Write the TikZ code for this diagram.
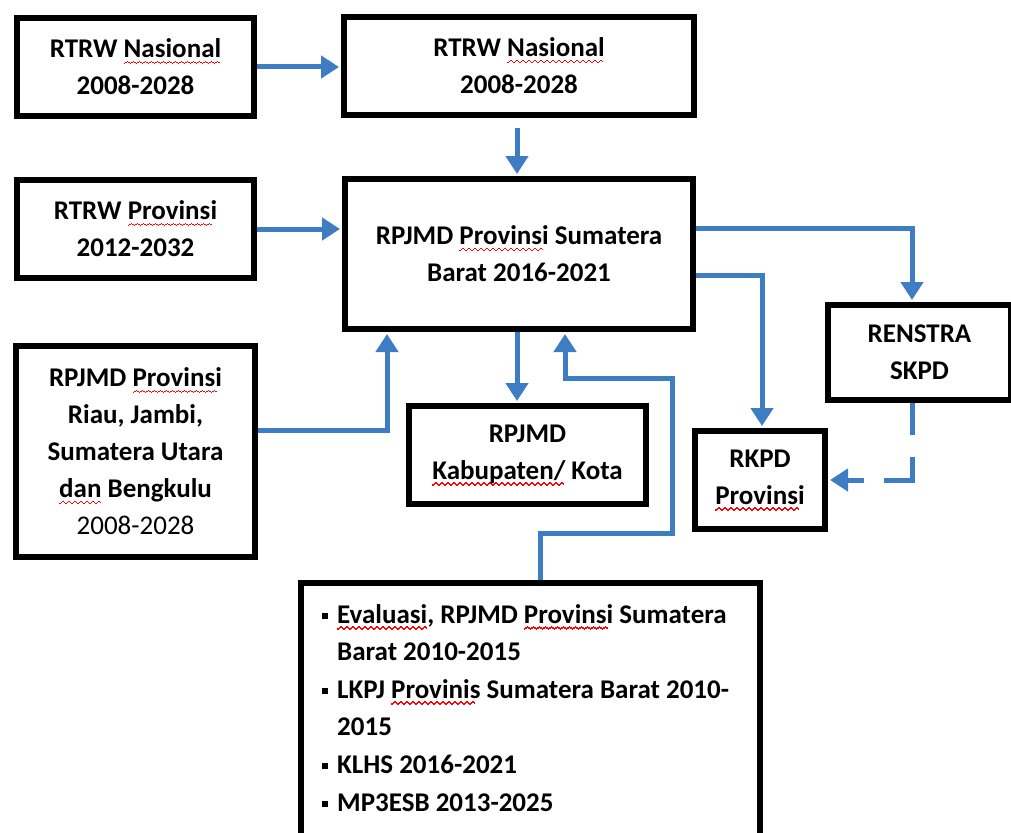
\documentclass[tikz,border=0pt]{standalone}
\usepackage{fontspec}
\setmainfont{Carlito}
\usepackage{xcolor}
\usetikzlibrary{arrows.meta}

\definecolor{linkblue}{RGB}{62,125,196}
% red spell-check wave under a word
\newcommand{\wavebit}{\hbox{\rule[-6.5pt]{1.5pt}{1.3pt}\rule[-5.5pt]{1.5pt}{1.3pt}\rule[-4.5pt]{1.5pt}{1.3pt}\rule[-5.5pt]{1.5pt}{1.3pt}}}
\newcommand{\sq}[1]{\setbox0\hbox{#1}\rlap{\textcolor{red}{\leaders\wavebit\hskip\wd0}}\box0\relax}
\newcommand{\blt}{\makebox[15pt][l]{\rule[4pt]{6pt}{6pt}}}

\begin{document}
\begin{tikzpicture}[x=1pt, y=-1pt,
    box/.style={draw, line width=6pt, align=center, inner sep=0pt,
        font=\fontsize{27}{37}\selectfont\bfseries},
    link/.style={draw=linkblue, line width=5pt,
        -{Triangle[width=22pt,length=18pt]}, shorten >=2pt}
]
\useasboundingbox (0,0) rectangle (1011,832);

% boxes
\node[box, minimum width=237pt, minimum height=98pt] (nasa) at (135.5,67) {RTRW \sq{Nasional}\\2008-2028};
\node[box, minimum width=350pt, minimum height=98pt] (nasb) at (519,66) {RTRW \sq{Nasional}\\2008-2028};
\node[box, minimum width=237pt, minimum height=98pt] (prov) at (135.5,229) {RTRW \sq{Provinsi}\\2012-2032};
\node[box, minimum width=348pt, minimum height=150pt] (rp) at (519,254) {RPJMD \sq{Provinsi} Sumatera\\Barat 2016-2021};
\node[box, minimum width=239pt, minimum height=211pt] (rpl) at (135.5,451.5) {RPJMD \sq{Provinsi}\\Riau, Jambi,\\Sumatera Utara\\\sq{dan} Bengkulu\\\mdseries 2008-2028};
\node[box, minimum width=237pt, minimum height=98pt] (kab) at (527.5,455) {RPJMD\\\sq{Kabupaten/} Kota};
\node[box, minimum width=183pt, minimum height=95pt] (skpd) at (919.5,352.5) {RENSTRA\\SKPD};
\node[box, minimum width=130pt, minimum height=98pt] (rkpd) at (760,480) {RKPD\\\sq{Provinsi}};
\node[box, minimum width=459pt, minimum height=264pt] (ev) at (530.5,715) {};
\node[anchor=base west, text width=440pt, align=flush left, inner sep=0pt,
    font=\fontsize{27}{37.6}\selectfont\bfseries] (evtxt) at (322,623)
    {\blt\sq{Evaluasi}, RPJMD \sq{Provinsi} Sumatera\\
     \hspace*{15pt}Barat 2010-2015\\
     \blt LKPJ \sq{Provinis} Sumatera Barat 2010-\\
     \hspace*{15pt}2015\\
     \blt KLHS 2016-2021\\
     \blt MP3ESB 2013-2025};

% connectors
\draw[link] (nasa.east) -- (nasa.east -| nasb.west);
\draw[link, shorten <=10pt] ([xshift=-2pt]nasb.south) -- ([xshift=-2pt]rp.north);
\draw[link] (prov.east) -- (prov.east -| rp.west);
\draw[link] ([yshift=21.5pt]rpl.east) -| ([xshift=-132pt]rp.south);
\draw[link] ([xshift=-2pt]rp.south) -- ([xshift=-2pt]rp.south |- kab.north);
\draw[link] ([xshift=9.5pt]ev.north) -- ++(0,-47) -| (672,378) -| ([xshift=46pt]rp.south);
\draw[link] ([yshift=26pt]rp.east) -| ([xshift=-7.5pt]skpd.north);
\draw[link] ([yshift=-21pt]rp.east) -| ([xshift=2pt]rkpd.north);
\draw[link, dash pattern=on 32pt off 22pt on 51pt off 20pt] ([xshift=-7.5pt]skpd.south) |- (rkpd.east);

\end{tikzpicture}
\end{document}
